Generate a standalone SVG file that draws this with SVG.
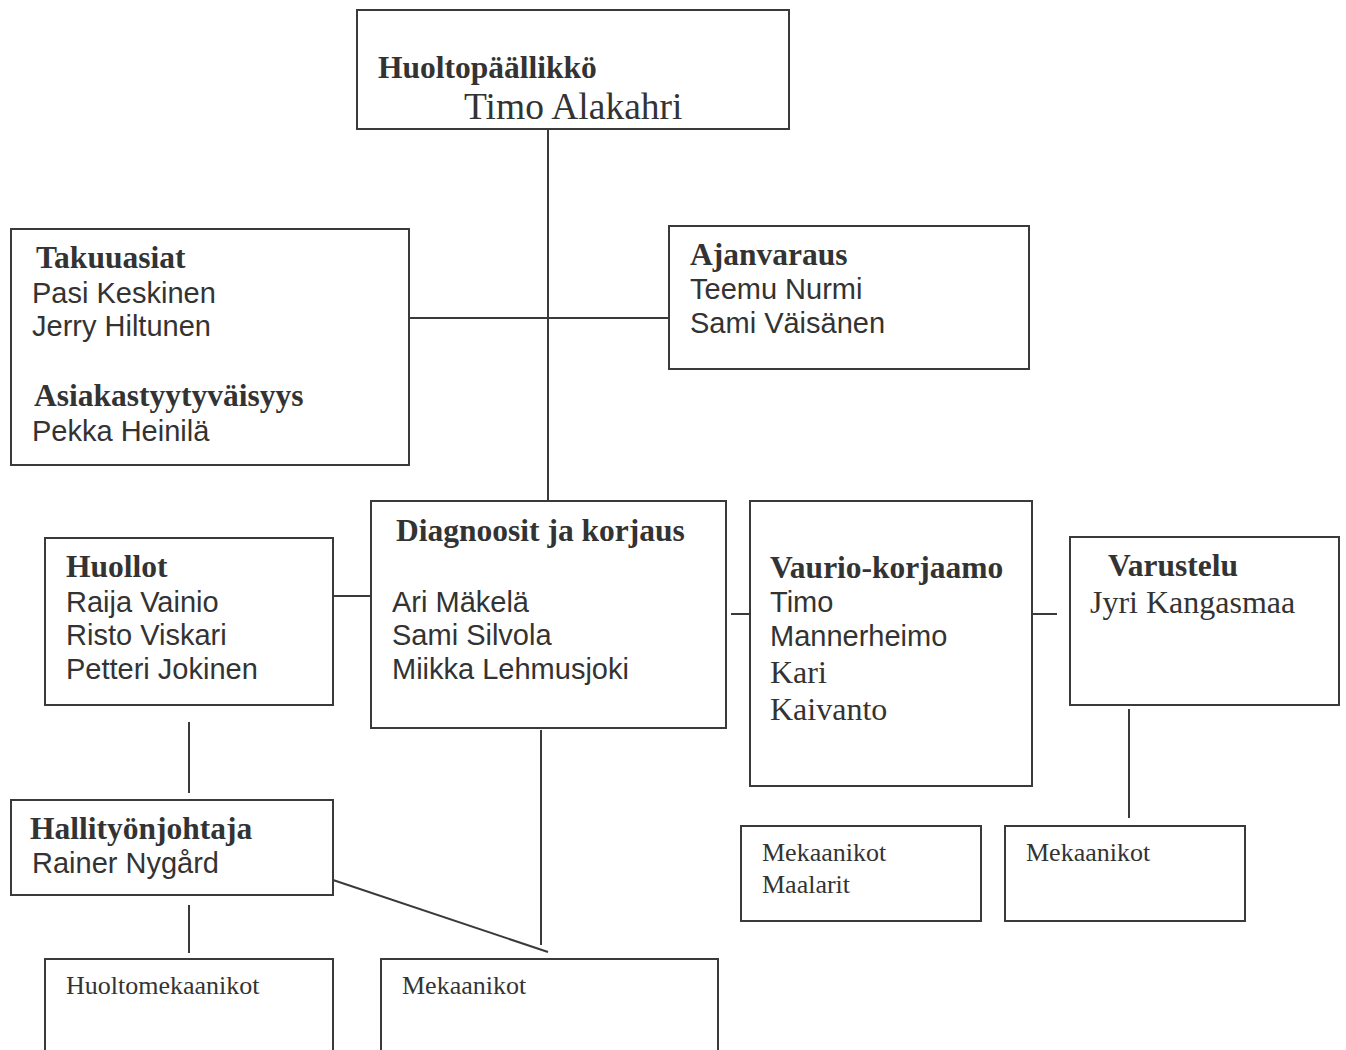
<svg xmlns="http://www.w3.org/2000/svg" width="1346" height="1050" viewBox="0 0 1346 1050">
<style>
.box{fill:#fff;stroke:#3a3a3a;stroke-width:2}
.ln{stroke:#3a3a3a;stroke-width:2;fill:none}
.h{font-family:"Liberation Serif",serif;font-weight:bold;font-size:31.5px;fill:#333}
.s{font-family:"Liberation Sans",sans-serif;font-size:29px;fill:#333}
.r{font-family:"Liberation Serif",serif;font-size:32px;fill:#333}
.m{font-family:"Liberation Serif",serif;font-size:26px;fill:#333}
</style>
<rect width="1346" height="1050" fill="#fff"/>
<g id="connectors">
<line class="ln" x1="548" y1="129" x2="548" y2="503"/>
<line class="ln" x1="405" y1="318" x2="669" y2="318"/>
<line class="ln" x1="333" y1="596" x2="382" y2="596"/>
<line class="ln" x1="731" y1="614" x2="755" y2="614"/>
<line class="ln" x1="1033" y1="614" x2="1057" y2="614"/>
<line class="ln" x1="189" y1="722" x2="189" y2="793"/>
<line class="ln" x1="189" y1="905" x2="189" y2="953"/>
<line class="ln" x1="541" y1="730" x2="541" y2="945"/>
<line class="ln" x1="333" y1="880" x2="548" y2="952"/>
<line class="ln" x1="1129" y1="709" x2="1129" y2="818"/>
</g>
<g id="huoltopaallikko">
<rect class="box" x="357" y="10" width="432" height="119"/>
<text class="h" x="378" y="78">Huoltopäällikkö</text>
<text class="r" x="464" y="119" style="font-size:37.5px">Timo Alakahri</text>
</g>
<g id="takuuasiat">
<rect class="box" x="11" y="229" width="398" height="236"/>
<text class="h" x="36" y="268">Takuuasiat</text>
<text class="s" x="32" y="303">Pasi Keskinen</text>
<text class="s" x="32" y="336">Jerry Hiltunen</text>
<text class="h" x="34" y="406">Asiakastyytyväisyys</text>
<text class="s" x="32" y="441">Pekka Heinilä</text>
</g>
<g id="ajanvaraus">
<rect class="box" x="669" y="226" width="360" height="143"/>
<text class="h" x="690" y="265">Ajanvaraus</text>
<text class="s" x="690" y="299">Teemu Nurmi</text>
<text class="s" x="690" y="333">Sami Väisänen</text>
</g>
<g id="diagnoosit">
<rect class="box" x="371" y="501" width="355" height="227"/>
<text class="h" x="396" y="541">Diagnoosit ja korjaus</text>
<text class="s" x="392" y="612">Ari Mäkelä</text>
<text class="s" x="392" y="645">Sami Silvola</text>
<text class="s" x="392" y="679">Miikka Lehmusjoki</text>
</g>
<g id="huollot">
<rect class="box" x="45" y="538" width="288" height="167"/>
<text class="h" x="66" y="577">Huollot</text>
<text class="s" x="66" y="612">Raija Vainio</text>
<text class="s" x="66" y="645">Risto Viskari</text>
<text class="s" x="66" y="679">Petteri Jokinen</text>
</g>
<g id="vauriokorjaamo">
<rect class="box" x="750" y="501" width="282" height="285"/>
<text class="h" x="770" y="578">Vaurio-korjaamo</text>
<text class="s" x="770" y="612">Timo</text>
<text class="s" x="770" y="646">Mannerheimo</text>
<text class="r" x="770" y="683">Kari</text>
<text class="r" x="770" y="720">Kaivanto</text>
</g>
<g id="varustelu">
<rect class="box" x="1070" y="537" width="269" height="168"/>
<text class="h" x="1108" y="576">Varustelu</text>
<text class="r" x="1090" y="613">Jyri Kangasmaa</text>
</g>
<g id="hallityonjohtaja">
<rect class="box" x="11" y="800" width="322" height="95"/>
<text class="h" x="30" y="839">Hallityönjohtaja</text>
<text class="s" x="32" y="873">Rainer Nygård</text>
</g>
<g id="mekaanikot-maalarit">
<rect class="box" x="741" y="826" width="240" height="95"/>
<text class="m" x="762" y="861">Mekaanikot</text>
<text class="m" x="762" y="893">Maalarit</text>
</g>
<g id="mekaanikot-varustelu">
<rect class="box" x="1005" y="826" width="240" height="95"/>
<text class="m" x="1026" y="861">Mekaanikot</text>
</g>
<g id="huoltomekaanikot">
<path class="ln" d="M45,1052 V959 H333 V1052"/>
<text class="m" x="66" y="994">Huoltomekaanikot</text>
</g>
<g id="mekaanikot-diagnoosit">
<path class="ln" d="M381,1052 V959 H718 V1052"/>
<text class="m" x="402" y="994">Mekaanikot</text>
</g>
</svg>
